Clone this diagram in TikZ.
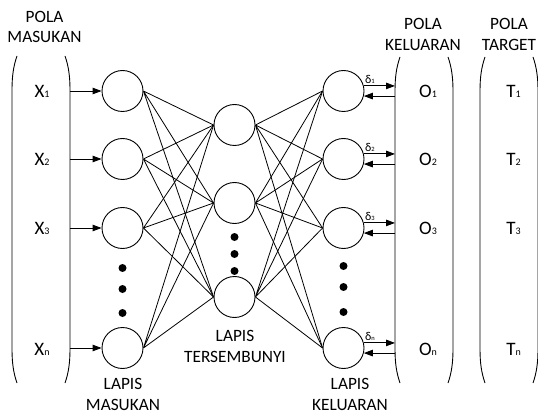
\documentclass[tikz,border=0pt]{standalone}
\usepackage{fontspec}
\setmainfont{Carlito}
\usetikzlibrary{arrows.meta,positioning}
\newcommand{\idx}[1]{{\fontsize{10}{10}\selectfont #1}}
\newcommand{\didx}[1]{{\fontsize{6.5}{6.5}\selectfont #1}}
\tikzset{
	neuron/.style={draw,circle,line width=0.9pt,minimum size=41pt,inner sep=0pt},
	titik/.style={fill,circle,minimum size=8pt,inner sep=0pt},
	sig/.style={-{Triangle[length=9pt,width=6.5pt]},line width=0.9pt},
	wire/.style={line width=0.8pt},
	pola/.style={line width=0.9pt},
	head/.style={align=center,font=\fontsize{17.3}{20.5}\selectfont},
	val/.style={font=\fontsize{19}{20}\selectfont},
	err/.style={font=\fontsize{12}{12}\selectfont,anchor=south west,inner sep=1pt,yshift=1.5pt}
}
\begin{document}
\begin{tikzpicture}[x=1pt,y=-1pt]
	\useasboundingbox (0,0) rectangle (538,414);
	\draw[pola] (17,56) .. controls (13.5,66) and (12,76) .. (12,90) -- (12,349) .. controls (12,363) and (13.5,373) .. (17,383);
	\draw[pola] (65,56) .. controls (68.5,66) and (70,76) .. (70,90) -- (70,349) .. controls (70,363) and (68.5,373) .. (65,383);
	\draw[pola] (400,57) .. controls (396.5,67) and (395,77) .. (395,91) -- (395,349) .. controls (395,363) and (396.5,373) .. (400,383);
	\draw[pola] (448,57) .. controls (451.5,67) and (453,77) .. (453,91) -- (453,349) .. controls (453,363) and (451.5,373) .. (448,383);
	\draw[pola] (485,57) .. controls (481.5,67) and (480,77) .. (480,91) -- (480,349) .. controls (480,363) and (481.5,373) .. (485,383);
	\draw[pola] (533,57) .. controls (536.5,67) and (538,77) .. (538,91) -- (538,349) .. controls (538,363) and (536.5,373) .. (533,383);
	\coordinate (mb) at (70,0);
	\coordinate (kb) at (395,0);
	\node[head] (hm) at (44.5,27) {POLA\\MASUKAN};
	\node[head] (hk) at (423,34.5) {POLA\\KELUARAN};
	\node[head] (ht) at (509,34.5) {POLA\\TARGET};
	\node[val] (x1) at (42,91) {X\idx{1}};
	\node[val] (x2) at (42,159) {X\idx{2}};
	\node[val] (x3) at (42,228) {X\idx{3}};
	\node[val] (xn) at (42,349) {X\idx{n}};
	\node[val] (o1) at (428,91) {O\idx{1}};
	\node[val] (o2) at (428,159) {O\idx{2}};
	\node[val] (o3) at (428,228) {O\idx{3}};
	\node[val] (on) at (428,349) {O\idx{n}};
	\node[val] (t1) at (513.5,91) {T\idx{1}};
	\node[val] (t2) at (513.5,159) {T\idx{2}};
	\node[val] (t3) at (513.5,228) {T\idx{3}};
	\node[val] (tn) at (513.5,349) {T\idx{n}};
	\node[neuron] (m1) at (122.5,91) {};
	\node[neuron] (m2) at (122.5,159) {};
	\node[neuron] (m3) at (122.5,228) {};
	\node[neuron] (mn) at (122.5,348) {};
	\node[titik] (md1) at (122.5,268) {};
	\node[titik] (md2) at (122.5,289) {};
	\node[titik] (md3) at (122.5,313) {};
	\node[neuron] (h1) at (234.5,125) {};
	\node[neuron] (h2) at (234.5,203) {};
	\node[neuron] (hn) at (234.5,297) {};
	\node[titik] (hd1) at (234.5,237) {};
	\node[titik] (hd2) at (234.5,254) {};
	\node[titik] (hd3) at (234.5,271) {};
	\node[neuron] (k1) at (343.5,91) {};
	\node[neuron] (k2) at (343.5,159) {};
	\node[neuron] (k3) at (343.5,228) {};
	\node[neuron] (kn) at (343.5,348) {};
	\node[titik] (kd1) at (343.5,266) {};
	\node[titik] (kd2) at (343.5,287) {};
	\node[titik] (kd3) at (343.5,312) {};
	\node[head] (lm) at (123,394.5) {LAPIS\\MASUKAN};
	\node[head] (lh) at (235,346.5) {LAPIS\\TERSEMBUNYI};
	\node[head] (lk) at (350,394.5) {LAPIS\\KELUARAN};
	\draw[sig] (mb |- m1) -- (m1);
	\draw[sig] (mb |- m2) -- (m2);
	\draw[sig] (mb |- m3) -- (m3);
	\draw[sig] (mb |- mn) -- (mn);
	\draw[wire] (m1.east) -- (h1.west) (m1.east) -- (h2.west) (m1.east) -- (hn.west);
	\draw[wire] (m2.east) -- (h1.west) (m2.east) -- (h2.west) (m2.east) -- (hn.west);
	\draw[wire] (m3.east) -- (h1.west) (m3.east) -- (h2.west) (m3.east) -- (hn.west);
	\draw[wire] (mn.east) -- (h1.west) (mn.east) -- (h2.west) (mn.east) -- (hn.west);
	\draw[wire] (h1.east) -- (k1.west) (h1.east) -- (k2.west) (h1.east) -- (k3.west) (h1.east) -- (kn.west);
	\draw[wire] (h2.east) -- (k1.west) (h2.east) -- (k2.west) (h2.east) -- (k3.west) (h2.east) -- (kn.west);
	\draw[wire] (hn.east) -- (k1.west) (hn.east) -- (k2.west) (hn.east) -- (k3.west) (hn.east) -- (kn.west);
	\draw[sig] (k1.14) -- (k1.14 -| kb);
	\draw[sig] (k1.-14 -| kb) -- (k1.-14);
	\draw[sig] (k2.14) -- (k2.14 -| kb);
	\draw[sig] (k2.-14 -| kb) -- (k2.-14);
	\draw[sig] (k3.14) -- (k3.14 -| kb);
	\draw[sig] (k3.-14 -| kb) -- (k3.-14);
	\draw[sig] (kn.14) -- (kn.14 -| kb);
	\draw[sig] (kn.-14 -| kb) -- (kn.-14);
	\node[err] (d1) at (k1.14) {δ\didx{1}};
	\node[err] (d2) at (k2.14) {δ\didx{2}};
	\node[err] (d3) at (k3.14) {δ\didx{3}};
	\node[err] (dn) at (kn.14) {δ\didx{n}};
\end{tikzpicture}
\end{document}
